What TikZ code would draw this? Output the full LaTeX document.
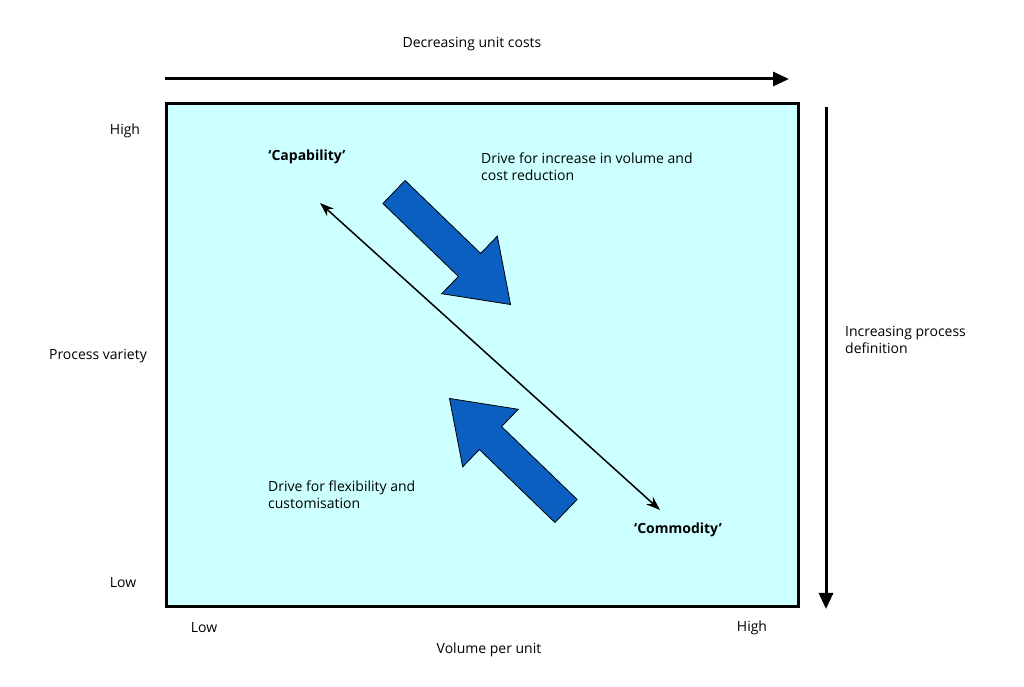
\documentclass[tikz,border=0pt]{standalone}
\usepackage{fontspec}
\setmainfont{Open Sans}
\usetikzlibrary{arrows.meta}
\definecolor{bg}{HTML}{CCFFFF}
\definecolor{blk}{HTML}{0A5FC0}
\begin{document}
\begin{tikzpicture}[x=1pt,y=1pt,font=\fontsize{14}{17}\selectfont,
  lbl/.style={inner sep=0pt},
  big/.style={line width=3pt,-{Triangle[length=16pt,width=14pt]}},
  barrow/.style={fill=blk,draw=black,line width=0.8pt}]
\useasboundingbox (0,0) rectangle (1024,687);
\node[draw=black,line width=3pt,fill=bg,minimum width=632,minimum height=503,anchor=north west,inner sep=0pt] (box) at (165,585) {};
\coordinate (t1) at (165,608); \coordinate (t2) at (789,608);
\draw[big] (t1) -- (t2);
\coordinate (r1) at (826,580); \coordinate (r2) at (826,78);
\draw[big] (r1) -- (r2);
\node[lbl] (n1) at (472,643) {Decreasing unit costs};
\node[lbl] (n2) at (125,556) {High};
\node[lbl] (n3) at (98,331) {Process variety};
\node[lbl] (n4) at (123,104) {Low};
\node[lbl] (n5) at (204,59) {Low};
\node[lbl] (n6) at (752,59) {High};
\node[lbl] (n7) at (489,37) {Volume per unit};
\node[lbl,anchor=west,align=left] (n8) at (845,347) {Increasing process\\definition};
\node[lbl,font=\fontsize{14}{17}\selectfont\bfseries] (cap) at (307,530) {‘Capability’};
\node[lbl,font=\fontsize{14}{17}\selectfont\bfseries] (com) at (678,157) {‘Commodity’};
\node[lbl,anchor=west,align=left] (d1) at (481,520) {Drive for increase in volume and\\cost reduction};
\node[lbl,anchor=west,align=left] (d2) at (268,192) {Drive for flexibility and\\customisation};
\coordinate (a1) at (320,484); \coordinate (a2) at (660,177);
\draw[line width=1.5pt,{Stealth[length=14pt,width=10pt]}-{Stealth[length=14pt,width=10pt]}] (a1) -- (a2);
\begin{scope}[shift={(394,495)},rotate=-44]
\draw[barrow] (0,-16) -- (105,-16) -- (105,-40) -- (162,0) -- (105,40) -- (105,16) -- (0,16) -- cycle;
\end{scope}
\begin{scope}[shift={(566,176)},rotate=136]
\draw[barrow] (0,-16) -- (105,-16) -- (105,-40) -- (162,0) -- (105,40) -- (105,16) -- (0,16) -- cycle;
\end{scope}
\end{tikzpicture}
\end{document}
